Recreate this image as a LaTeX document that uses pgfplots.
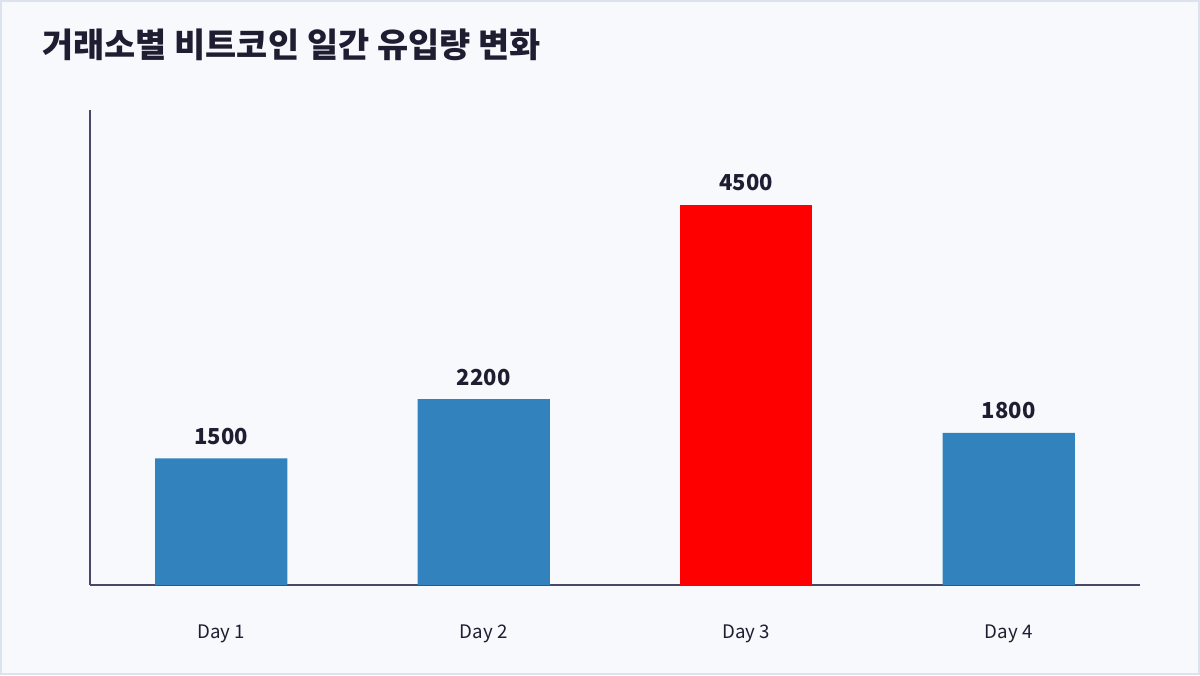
\documentclass[border=0pt]{standalone}
\usepackage{pgfplots}
\pgfplotsset{compat=1.18}
\usepackage{fontspec}
\setmainfont{Noto Sans CJK KR}
\definecolor{bg}{HTML}{F7F9FD}
\definecolor{frame}{HTML}{DDE3EC}
\definecolor{axisc}{HTML}{4A4868}
\definecolor{txt}{HTML}{1E1E32}
\definecolor{barblue}{HTML}{3182BD}
\definecolor{barred}{HTML}{FF0000}
\begin{document}
\begin{tikzpicture}[x=0.75pt,y=0.75pt]
\useasboundingbox (0,0) rectangle (1200,675);
\fill[bg] (0,0) rectangle (1200,675);
\draw[frame, line width=1.5pt] (0.75,0.75) rectangle (1199.25,674.25);
\node[anchor=base west, text=txt, inner sep=0pt, font=\bfseries\fontsize{25.4}{30}\selectfont] at (42,617) {거래소별 비트코인 일간 유입량 변화};
\begin{axis}[
  at={(67.5pt,67.5pt)}, anchor=south west,
  width=787.5pt, height=356.25pt, scale only axis,
  xmin=-0.5, xmax=3.5, ymin=0, ymax=5625,
  axis x line=bottom, axis y line=left,
  axis line style={-, axisc, line width=1.5pt},
  ytick=\empty,
  xtick={0,1,2,3},
  xticklabels={Day 1, Day 2, Day 3, Day 4},
  major tick length=0pt,
  xticklabel style={anchor=base, yshift=-39.75pt, text=txt, font=\fontsize{14}{16}\selectfont},
  ybar, bar width=0.503, bar shift=0pt,
  /pgf/number format/assume math mode=true,
  /pgf/number format/1000 sep={},
  nodes near coords,
  nodes near coords style={anchor=base, yshift=10.5pt, text=txt, font=\bfseries\fontsize{16.5}{18}\selectfont},
  clip=false,
]
\addplot[fill=barblue, draw=none] coordinates {(0,1500) (1,2200) (3,1800)};
\addplot[fill=barred, draw=none] coordinates {(2,4500)};
\end{axis}
\end{tikzpicture}
\end{document}
